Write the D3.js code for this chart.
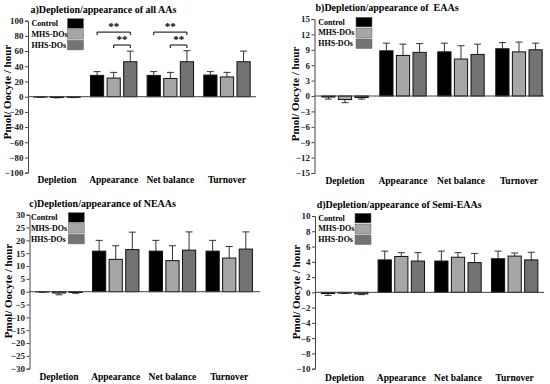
<!DOCTYPE html>
<html>
<head>
<meta charset="utf-8">
<script src="https://cdn.jsdelivr.net/npm/d3@7"></script>
<style>
  html, body { margin: 0; padding: 0; background: #fff; }
  svg { display: block; }
  text { font-family: "Liberation Serif", "Times New Roman", serif; font-weight: bold; }
</style>
</head>
<body>
<svg id="chart" width="550" height="384"></svg>
<script>
// ---------- DATA ----------
const categories = ["Depletion", "Appearance", "Net balance", "Turnover"];
const seriesNames = ["Control", "MHS-DOs", "HHS-DOs"];

const titles = [
  "a)Depletion/appearance of all AAs",
  "b)Depletion/appearance of  EAAs",
  "c)Depletion/appearance of NEAAs",
  "d)Depletion/appearance of Semi-EAAs"
];
const yLabel = "Pmol/ Oocyte / hour";

// y tick values per panel
const ticksA = [-100, -80, -60, -40, -20, 0, 20, 40, 60, 80, 100];
const ticksB = [-15, -12, -9, -6, -3, 0, 3, 6, 9, 12, 15];
const ticksC = [-30, -25, -20, -15, -10, -5, 0, 5, 10, 15, 20, 25, 30];
const ticksD = [-10, -8, -6, -4, -2, 0, 2, 4, 6, 8, 10];

// a) all AAs
const allControl    = [-0.5, 28, 28, 28.5];
const allControlErr = [0.3, 5, 5, 4.5];
const allMHS        = [-1.0, 24.5, 24, 26];
const allMHSErr     = [0.5, 7.5, 8, 6];
const allHHS        = [-0.8, 46, 46, 46];
const allHHSErr     = [0.4, 14, 14.5, 14];

// b) EAAs
const eaaControl    = [-0.2, 8.8, 8.6, 9.2];
const eaaControlErr = [0.4, 1.5, 1.7, 1.2];
const eaaMHS        = [-0.7, 7.9, 7.2, 8.6];
const eaaMHSErr     = [0.6, 2.2, 2.6, 1.9];
const eaaHHS        = [-0.3, 8.5, 8.1, 9.0];
const eaaHHSErr     = [0.3, 1.7, 2.0, 1.3];

// c) NEAAs
const neaaControl    = [-0.1, 15.8, 15.8, 15.8];
const neaaControlErr = [0.1, 4.2, 4.2, 4.2];
const neaaMHS        = [-0.5, 12.6, 12.1, 13.1];
const neaaMHSErr     = [0.7, 5.3, 5.8, 4.5];
const neaaHHS        = [-0.3, 16.4, 16.2, 16.6];
const neaaHHSErr     = [0.3, 6.8, 7.1, 6.7];

// d) Semi-EAAs
const semiControl    = [-0.15, 4.25, 4.1, 4.4];
const semiControlErr = [0.25, 1.15, 1.3, 1.0];
const semiMHS        = [-0.1, 4.7, 4.6, 4.75];
const semiMHSErr     = [0.05, 0.5, 0.6, 0.4];
const semiHHS        = [-0.2, 4.1, 3.9, 4.25];
const semiHHSErr     = [0.1, 1.1, 1.2, 1.0];

// significance brackets (panel a): category, from series, to series, level value, label
const sigCategory = ["Appearance", "Appearance", "Net balance", "Net balance"];
const sigFrom     = [0, 1, 0, 1];
const sigTo       = [2, 2, 2, 2];
const sigLevel    = [85, 68, 85, 68];
const sigLabel    = ["**", "**", "**", "**"];

// ---------- STYLE / LAYOUT ----------
const colors = ["#000000", "#a6a6a6", "#737373"];

const panels = [
  { title: titles[0], ticks: ticksA, means: [allControl, allMHS, allHHS], errs: [allControlErr, allMHSErr, allHHSErr],
    axisX: 28, bandStart: 28.7, bandEnd: 255.3, axisEnd: 256, yTop: 20.7, yBot: 172.7,
    titleX: 30.5, titleY: 12.5, catY: 182.5, ylabX: 7, ylabY: 92,
    legTextX: 31.5, legSwX: 67.5, legY: 18.7, sig: true },
  { title: titles[1], ticks: ticksB, means: [eaaControl, eaaMHS, eaaHHS], errs: [eaaControlErr, eaaMHSErr, eaaHHSErr],
    axisX: 314.5, bandStart: 316, bandEnd: 548, axisEnd: 544, yTop: 19, yBot: 173,
    titleX: 315.5, titleY: 10.5, catY: 183.5, ylabX: 295, ylabY: 94,
    legTextX: 318.3, legSwX: 356, legY: 17.3, sig: false },
  { title: titles[2], ticks: ticksC, means: [neaaControl, neaaMHS, neaaHHS], errs: [neaaControlErr, neaaMHSErr, neaaHHSErr],
    axisX: 29.5, bandStart: 30.6, bandEnd: 257.6, axisEnd: 260, yTop: 214.7, yBot: 368.7,
    titleX: 29.3, titleY: 206.5, catY: 380.3, ylabX: 7.5, ylabY: 291,
    legTextX: 31, legSwX: 68.3, legY: 212.7, sig: false },
  { title: titles[3], ticks: ticksD, means: [semiControl, semiMHS, semiHHS], errs: [semiControlErr, semiMHSErr, semiHHSErr],
    axisX: 315, bandStart: 316.3, bandEnd: 543, axisEnd: 544, yTop: 216, yBot: 368.7,
    titleX: 316.7, titleY: 207.5, catY: 380.5, ylabX: 296, ylabY: 292,
    legTextX: 318.3, legSwX: 355, legY: 213.3, sig: false }
];

const svg = d3.select("#chart");
const barW = 13.2, barStep = 16.6;

panels.forEach(p => {
  const g = svg.append("g");
  const tmin = d3.min(p.ticks), tmax = d3.max(p.ticks);
  const y = d3.scaleLinear().domain([tmin, tmax]).range([p.yBot, p.yTop]);
  const x = d3.scaleBand().domain(categories).range([p.bandStart, p.bandEnd]);
  const xs = d3.scaleBand().domain(d3.range(seriesNames.length))
    .range([x.bandwidth() / 2 - 1.5 * barStep, x.bandwidth() / 2 + 1.5 * barStep]);

  // title
  g.append("text").attr("x", p.titleX).attr("y", p.titleY)
    .style("font-size", "10px").style("white-space", "pre").attr("fill", "#000").text(p.title);

  // y axis
  const yAxis = d3.axisLeft(y).tickValues(p.ticks).tickSize(3).tickPadding(1.5).tickFormat(d3.format("d"));
  const ya = g.append("g").attr("transform", `translate(${p.axisX},0)`).call(yAxis);
  ya.select(".domain").attr("stroke", "#444").attr("stroke-width", 1);
  ya.selectAll(".tick line").attr("stroke", "#444");
  ya.selectAll(".tick text").style("font-size", "9px").style("font-family", "'Liberation Serif', serif")
    .style("font-weight", "bold").attr("fill", "#222");

  // bars
  const data = [];
  categories.forEach((c, ci) => {
    seriesNames.forEach((s, si) => {
      data.push({ c, si, v: p.means[si][ci], e: p.errs[si][ci] });
    });
  });
  const cx = d => x(d.c) + xs(d.si) + xs.bandwidth() / 2;

  // error bars
  const eg = g.append("g");
  data.forEach(d => {
    const sgn = d.v >= 0 ? 1 : -1;
    const y0 = y(d.v), y1 = y(d.v + sgn * d.e);
    eg.append("line").attr("x1", cx(d)).attr("x2", cx(d)).attr("y1", y0).attr("y2", y1)
      .attr("stroke", "#333").attr("stroke-width", 1);
    eg.append("line").attr("x1", cx(d) - 3.5).attr("x2", cx(d) + 3.5).attr("y1", y1).attr("y2", y1)
      .attr("stroke", "#333").attr("stroke-width", 1);
  });

  g.append("g").selectAll("rect").data(data).join("rect")
    .attr("x", d => cx(d) - barW / 2)
    .attr("width", barW)
    .attr("y", d => Math.min(y(d.v), y(0)))
    .attr("height", d => Math.abs(y(d.v) - y(0)))
    .attr("fill", d => colors[d.si])
    .attr("stroke", "#111").attr("stroke-width", 1);

  // zero line (x axis)
  g.append("line").attr("x1", p.axisX).attr("x2", p.axisEnd).attr("y1", y(0)).attr("y2", y(0))
    .attr("stroke", "#444").attr("stroke-width", 1);

  // category labels
  g.append("g").selectAll("text").data(categories).join("text")
    .attr("x", c => x(c) + x.bandwidth() / 2).attr("y", p.catY)
    .attr("text-anchor", "middle").style("font-size", "9.5px").attr("fill", "#000").text(c => c);

  // y label
  g.append("text").attr("transform", `translate(${p.ylabX},${p.ylabY}) rotate(-90)`)
    .attr("text-anchor", "middle").attr("dominant-baseline", "central")
    .style("font-size", "11px").attr("fill", "#000").text(yLabel);

  // legend
  const lg = g.append("g");
  seriesNames.forEach((s, i) => {
    const ry = p.legY + i * 10.8;
    lg.append("rect").attr("x", p.legSwX).attr("y", ry).attr("width", 16).attr("height", 9.6)
      .attr("fill", colors[i]).attr("stroke", "#666").attr("stroke-width", 0.5);
    lg.append("text").attr("x", p.legTextX).attr("y", ry + 4.8).attr("dominant-baseline", "central")
      .style("font-size", "8px").attr("fill", "#000").text(s);
  });

  // significance brackets
  if (p.sig) {
    sigCategory.forEach((c, i) => {
      const xa = x(c) + xs(sigFrom[i]) + xs.bandwidth() / 2;
      const xb = x(c) + xs(sigTo[i]) + xs.bandwidth() / 2;
      const yl = y(sigLevel[i]);
      g.append("path").attr("d", `M${xa},${yl + 3}V${yl}H${xb}V${yl + 3}`)
        .attr("fill", "none").attr("stroke", "#000").attr("stroke-width", 1);
      g.append("text").attr("x", (xa + xb) / 2).attr("y", yl - 2.5).attr("text-anchor", "middle")
        .style("font-size", "11px").attr("fill", "#000").text(sigLabel[i]);
    });
  }
});
</script>
</body>
</html>
